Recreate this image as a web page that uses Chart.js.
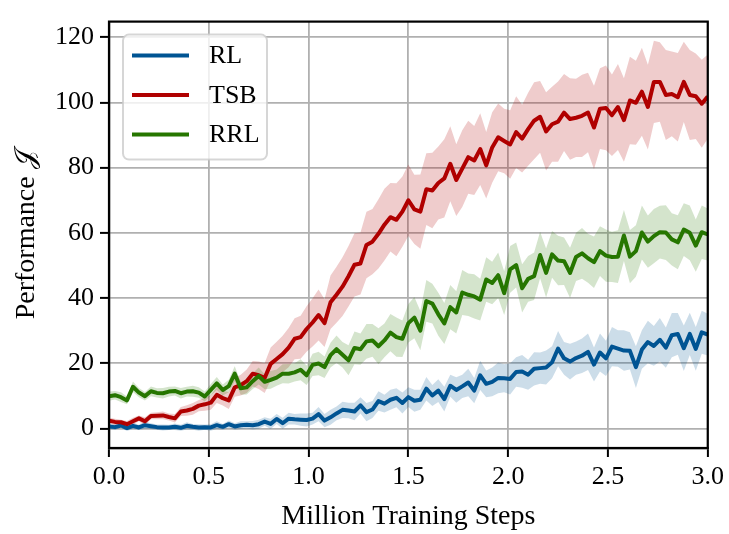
<!DOCTYPE html>
<html>
<head>
<meta charset="utf-8">
<script src="https://cdn.jsdelivr.net/npm/chart.js@4"></script>
<style>
  html, body { margin: 0; padding: 0; background: #fff; }
  #wrap { width: 729px; height: 534px; }
</style>
</head>
<body>
<div id="wrap"><canvas id="perfChart" width="729" height="534"></canvas></div>
<script>
// training curves, sampled every 0.03 M steps (101 samples)
const SERIES_NAMES = ['RL', 'TSB', 'RRL'];
const X_TICKS = [0, 0.5, 1.0, 1.5, 2.0, 2.5, 3.0];
const Y_TICKS = [0, 20, 40, 60, 80, 100, 120];
const STEPS = Array.from({length: 101}, (_, i) => +(i * 0.03).toFixed(2));

const RL_MEAN = [
  0.6, 0.4, 0.9, 0.1, 0.8, 0.3, 1.0, 0.7, 0.4, 0.3,
  0.3, 0.5, 0.2, 0.8, 0.5, 0.3, 0.4, 0.3, 1.0, 0.5,
  1.3, 0.6, 1.0, 1.1, 1.0, 1.3, 2.1, 1.4, 2.9, 1.6,
  3.0, 2.8, 2.7, 2.6, 3.0, 4.4, 2.4, 3.4, 4.6, 5.7,
  5.5, 5.2, 7.1, 5.0, 5.8, 8.4, 7.6, 8.8, 9.4, 7.8,
  9.6, 8.5, 8.8, 12.2, 10.1, 11.6, 9.0, 13.1, 11.8, 12.9,
  14.1, 11.6, 16.3, 13.7, 14.3, 15.5, 15.4, 15.2, 17.3, 17.5,
  16.5, 18.3, 18.5, 18.7, 20.3, 24.5, 21.5, 20.5, 21.6, 22.3,
  23.5, 19.6, 23.3, 21.5, 25.1, 24.5, 23.9, 23.8, 18.8, 24.2,
  26.5, 25.3, 27.2, 24.8, 28.6, 29.0, 24.6, 29.0, 24.4, 29.5,
  28.8
];
const RL_STD = [
  0.8, 0.9, 0.7, 0.9, 1.0, 0.8, 1.1, 0.9, 0.8, 0.9,
  0.8, 1.0, 0.9, 1.1, 0.9, 1.0, 0.8, 1.0, 1.2, 0.9,
  1.1, 1.0, 1.2, 1.1, 1.3, 1.4, 1.3, 1.6, 1.5, 1.7,
  1.8, 1.6, 1.9, 2.0, 1.8, 2.2, 2.0, 2.3, 2.1, 2.5,
  2.4, 2.7, 2.5, 2.8, 2.6, 3.0, 2.7, 3.1, 2.9, 3.2,
  3.0, 3.4, 3.1, 3.6, 3.2, 3.5, 3.8, 3.4, 3.9, 3.6,
  4.2, 3.9, 4.5, 4.1, 4.4, 4.7, 4.3, 4.8, 4.5, 5.0,
  4.6, 5.1, 4.8, 5.2, 4.9, 5.4, 5.0, 5.5, 5.1, 5.3,
  5.6, 5.2, 5.8, 5.4, 6.0, 5.6, 6.2, 5.7, 6.4, 5.9,
  6.5, 6.1, 6.7, 6.2, 6.8, 6.4, 7.0, 6.5, 6.7, 6.6,
  6.4
];

const TSB_MEAN = [
  2.4, 2.0, 1.9, 1.3, 2.2, 3.1, 2.2, 3.8, 3.9, 4.0,
  3.5, 3.1, 5.2, 5.5, 6.0, 7.0, 7.4, 7.9, 10.3, 9.3,
  8.6, 12.6, 13.3, 14.5, 16.8, 16.3, 15.5, 19.8, 21.3, 22.8,
  24.8, 27.5, 28.0, 30.5, 32.5, 34.8, 32.3, 38.7, 41.0, 43.5,
  46.7, 50.2, 50.6, 56.3, 57.3, 59.7, 62.5, 64.8, 64.0, 66.5,
  70.0, 67.2, 66.5, 73.4, 73.0, 75.3, 76.7, 81.2, 76.2, 79.7,
  83.2, 82.2, 85.7, 80.7, 86.2, 89.3, 88.2, 87.1, 90.9, 88.9,
  91.8, 94.4, 95.6, 91.1, 93.3, 94.1, 96.9, 94.9, 95.3, 95.9,
  96.9, 92.3, 98.1, 98.3, 96.1, 98.6, 94.6, 100.6, 99.9, 103.3,
  98.6, 106.3, 106.3, 102.3, 102.6, 101.6, 106.3, 102.3, 101.9, 99.6,
  101.8
];
const TSB_STD = [
  0.9, 1.0, 0.8, 1.0, 1.1, 0.9, 1.2, 1.0, 1.1, 1.2,
  1.1, 1.3, 1.4, 1.6, 1.8, 1.7, 2.0, 2.2, 2.5, 2.3,
  2.6, 2.9, 3.2, 3.6, 3.9, 4.2, 4.6, 5.0, 5.3, 5.6,
  6.0, 6.3, 6.6, 7.0, 7.4, 7.8, 7.3, 8.2, 8.6, 9.0,
  9.3, 9.7, 9.5, 10.2, 10.0, 10.6, 11.0, 10.5, 11.2, 10.8,
  11.0, 10.6, 11.4, 11.0, 11.6, 11.2, 12.0, 11.5, 11.0, 11.8,
  11.2, 10.6, 11.0, 10.2, 10.8, 10.4, 9.9, 10.5, 11.0, 10.4,
  11.2, 11.8, 11.0, 12.0, 11.5, 12.3, 11.8, 12.5, 12.0, 12.6,
  12.2, 12.8, 12.4, 13.0, 12.5, 13.2, 12.8, 13.4, 12.9, 13.5,
  13.0, 12.6, 12.2, 13.8, 13.0, 13.6, 12.3, 13.8, 13.1, 13.5,
  12.9
];

const RRL_MEAN = [
  9.9, 10.2, 9.6, 8.6, 12.8, 11.0, 9.9, 11.4, 10.9, 10.8,
  11.3, 11.5, 10.8, 11.3, 11.4, 11.0, 9.8, 11.8, 13.8, 11.8,
  13.0, 16.8, 12.3, 12.6, 14.5, 16.1, 14.3, 14.9, 15.6, 16.8,
  16.8, 17.2, 18.0, 16.3, 19.5, 19.9, 18.8, 22.5, 24.3, 22.6,
  20.9, 24.7, 24.3, 26.7, 27.0, 25.2, 27.0, 29.4, 28.0, 27.5,
  32.3, 34.0, 30.0, 39.1, 38.3, 35.0, 32.2, 37.2, 35.6, 41.7,
  41.0, 40.5, 39.5, 45.7, 44.6, 47.0, 41.5, 48.8, 50.1, 43.0,
  45.9, 46.7, 53.2, 47.7, 53.4, 51.5, 51.3, 47.7, 52.6, 53.7,
  52.2, 51.0, 54.4, 53.0, 52.6, 52.7, 59.2, 52.7, 54.4, 60.1,
  57.3, 59.0, 60.2, 60.1, 58.0, 57.1, 61.0, 60.0, 56.1, 60.2,
  59.5
];
const RRL_STD = [
  1.4, 1.3, 1.5, 1.2, 1.6, 1.4, 1.3, 1.5, 1.4, 1.6,
  1.5, 1.4, 1.6, 1.5, 1.7, 1.6, 1.5, 1.8, 2.0, 1.7,
  1.9, 2.3, 2.0, 2.2, 2.4, 2.6, 2.3, 2.7, 2.5, 2.9,
  3.0, 2.8, 3.2, 3.0, 3.4, 3.6, 3.3, 3.8, 4.2, 3.9,
  4.6, 5.0, 4.8, 5.3, 5.0, 5.5, 5.2, 5.7, 6.0, 5.6,
  5.9, 6.3, 6.0, 6.4, 6.1, 6.6, 6.3, 6.8, 6.5, 6.9,
  6.5, 6.8, 6.4, 6.8, 6.5, 7.0, 6.7, 7.2, 6.9, 7.4,
  7.0, 7.3, 7.1, 7.5, 7.2, 7.6, 7.3, 7.7, 7.4, 7.8,
  7.5, 7.9, 7.6, 8.0, 7.7, 8.1, 7.8, 8.2, 7.9, 8.3,
  8.0, 8.3, 8.1, 8.4, 8.0, 8.3, 8.1, 8.4, 8.0, 8.2,
  8.0
];

const LINE_COLORS = ['rgb(0, 84, 147)', 'rgb(176, 0, 0)', 'rgb(38, 118, 0)'];
const BAND_COLORS = ['rgba(0, 84, 147, 0.2)', 'rgba(176, 0, 0, 0.2)', 'rgba(38, 118, 0, 0.2)'];
const FONT = "'Liberation Serif', 'DejaVu Serif', serif";

const means = [RL_MEAN, TSB_MEAN, RRL_MEAN];
const stds = [RL_STD, TSB_STD, RRL_STD];

function toPoints(values){
    return values.map((v, i) => ({x: STEPS[i], y: v}));
}

let datasets = [];

// shaded mean +/- std bands, drawn underneath
for(let s = 0; s < means.length; s++){
    let lower = means[s].map((v, i) => v - stds[s][i]);
    let upper = means[s].map((v, i) => v + stds[s][i]);
    let base = datasets.length;
    datasets.push({
        label: '_lo' + s,
        data: toPoints(lower),
        borderWidth: 0,
        pointRadius: 0,
        fill: false,
        order: 10 + (means.length - s) * 2,
    });
    datasets.push({
        label: '_hi' + s,
        data: toPoints(upper),
        borderWidth: 0,
        pointRadius: 0,
        backgroundColor: BAND_COLORS[s],
        fill: {target: base},
        order: 10 + (means.length - s) * 2 - 1,
    });
}

// mean curves, later series on top
for(let s = 0; s < means.length; s++){
    datasets.push({
        label: SERIES_NAMES[s],
        data: toPoints(means[s]),
        borderColor: LINE_COLORS[s],
        backgroundColor: LINE_COLORS[s],
        borderWidth: 4,
        borderJoinStyle: 'round',
        pointRadius: 0,
        tension: 0,
        fill: false,
        order: means.length - s,
    });
}

// top/right spines to close the frame
const frame = {
    id: 'frame',
    afterDatasetsDraw(chart){
        const {ctx, chartArea: {left, right, top, bottom}} = chart;
        ctx.save();
        ctx.strokeStyle = '#000';
        ctx.lineWidth = 2.2;
        ctx.strokeRect(left, top, right - left, bottom - top);
        ctx.restore();
    }
};

// boxed legend in the upper-left corner of the plot
const boxLegend = {
    id: 'boxLegend',
    afterDraw(chart){
        const {ctx, chartArea: {left, top}} = chart;
        const x0 = left + 14, y0 = top + 13, w = 144, h = 125;
        ctx.save();
        ctx.beginPath();
        ctx.roundRect(x0, y0, w, h, 6);
        ctx.fillStyle = 'rgba(255, 255, 255, 0.8)';
        ctx.fill();
        ctx.strokeStyle = 'rgba(204, 204, 204, 0.8)';
        ctx.lineWidth = 2;
        ctx.stroke();

        ctx.font = '26px ' + FONT;
        ctx.textBaseline = 'middle';
        ctx.fillStyle = '#000';
        for(let s = 0; s < SERIES_NAMES.length; s++){
            let y = y0 + 21 + s * 39.5;
            ctx.beginPath();
            ctx.moveTo(x0 + 9, y);
            ctx.lineTo(x0 + 66, y);
            ctx.strokeStyle = LINE_COLORS[s];
            ctx.lineWidth = 4;
            ctx.stroke();
            ctx.fillText(SERIES_NAMES[s], x0 + 86, y + 1);
        }
        ctx.restore();
    }
};

const options = {
    responsive: false,
    animation: false,
    layout: {
        padding: {top: 11, right: 21, left: 0, bottom: 0},
    },
    plugins: {
        legend: {display: false},
        tooltip: {enabled: false},
        filler: {propagate: false},
    },
    scales: {
        x: {
            type: 'linear',
            min: 0,
            max: 3.0,
            afterFit(scale){ scale.height = 86; },
            afterBuildTicks(scale){ scale.ticks = X_TICKS.map(v => ({value: v})); },
            grid: {
                color: '#b0b0b0',
                lineWidth: 1.8,
                tickLength: 9,
                tickColor: '#000',
                tickWidth: 2,
            },
            border: {display: true, color: '#000', width: 2.2},
            ticks: {
                color: '#000',
                padding: 5,
                font: {family: FONT, size: 26},
                maxRotation: 0,
                callback: (v) => Number(v).toFixed(1),
            },
            title: {
                display: true,
                text: 'Million Training Steps',
                color: '#000',
                font: {family: FONT, size: 28},
                padding: {top: 0, bottom: 1},
            },
        },
        y: {
            type: 'linear',
            min: -6,
            max: 124.8,
            afterFit(scale){ scale.width = 109; },
            afterBuildTicks(scale){ scale.ticks = Y_TICKS.map(v => ({value: v})); },
            grid: {
                color: '#b0b0b0',
                lineWidth: 1.8,
                tickLength: 9,
                tickColor: '#000',
                tickWidth: 2,
            },
            border: {display: true, color: '#000', width: 2.2},
            ticks: {
                color: '#000',
                padding: 6,
                font: {family: FONT, size: 26},
            },
            title: {
                display: true,
                text: 'Performance 𝒥',
                color: '#000',
                font: {family: FONT, size: 28},
                padding: {top: 10, bottom: 0},
            },
        },
    },
};

const chart = new Chart(document.getElementById('perfChart'), {
    type: 'line',
    data: {datasets: datasets},
    options: options,
    plugins: [frame, boxLegend],
});
</script>
</body>
</html>
